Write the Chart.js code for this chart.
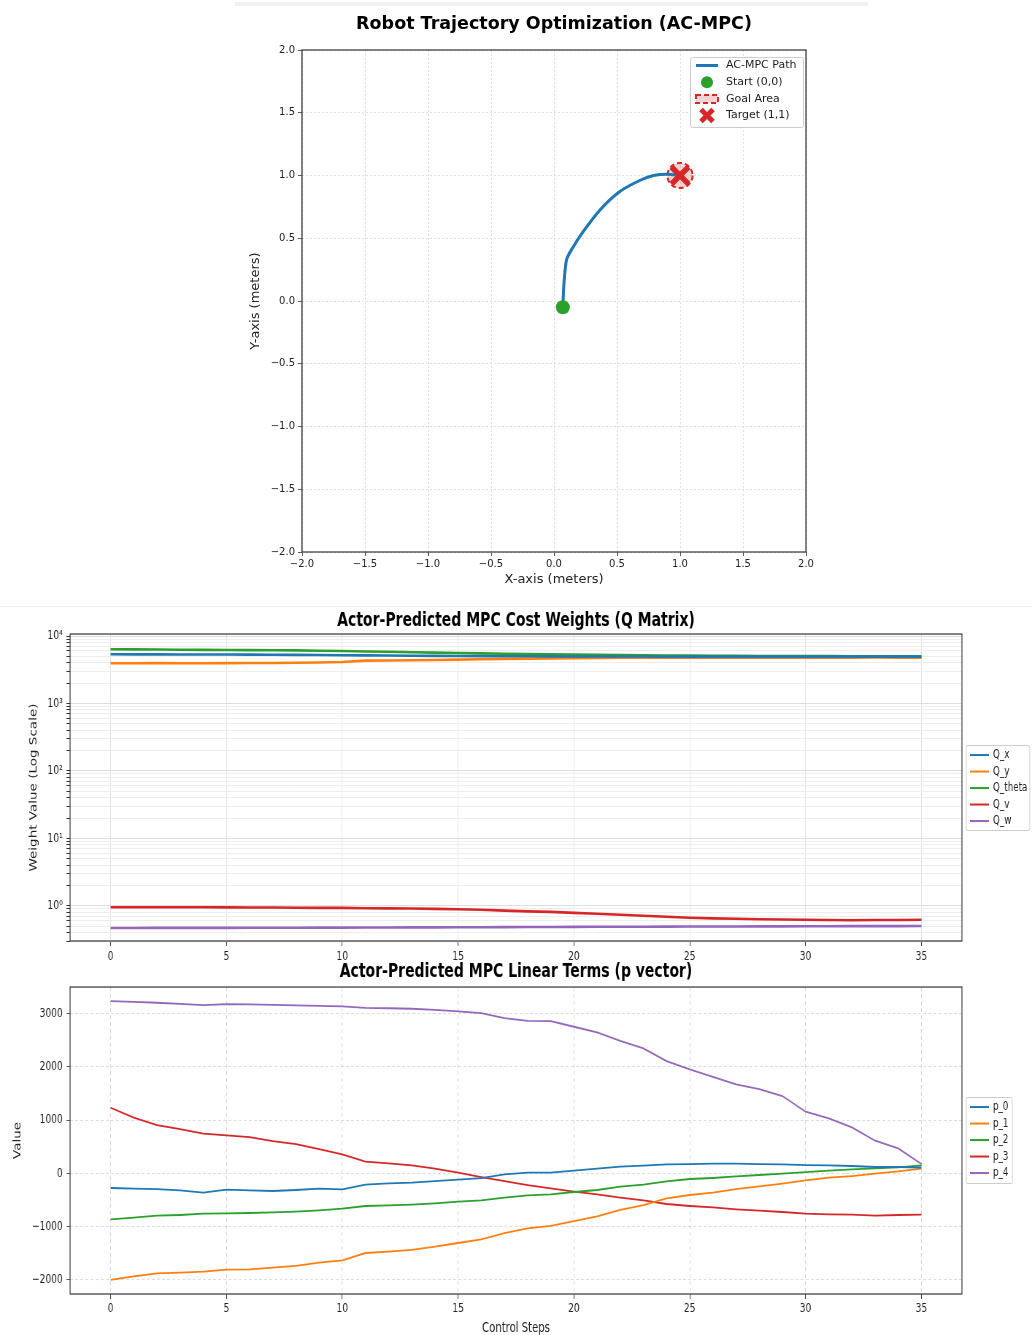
<!DOCTYPE html>
<html lang="en">
<head>
<meta charset="UTF-8">
<title>AC-MPC Results</title>
<script src="https://cdn.jsdelivr.net/npm/chart.js"></script>
<style>
    body { margin: 0; background: #fff; }
    .page { position: relative; width: 1032px; height: 1335px; overflow: hidden; background: #fff; }
    .page canvas { position: absolute; }
    #trajChart { left: 238px; top: 0; }
    /* the two step plots were squeezed sideways in the original figure */
    #qChart, #pChart { left: 0; transform: scaleX(0.72984); transform-origin: 0 0; }
    #qChart { top: 606px; }
    #pChart { top: 956px; }
    .topbar { position: absolute; left: 235px; top: 2px; width: 633px; height: 4px; background: #f0f0f0; }
    .sep { position: absolute; left: 0; top: 606px; width: 1032px; height: 1px; background: #f2f2f2; }
</style>
</head>
<body>
<div class="page">
    <div class="topbar"></div>
    <div class="sep"></div>
    <canvas id="trajChart" width="632" height="600"></canvas>
    <canvas id="qChart" width="1414" height="356"></canvas>
    <canvas id="pChart" width="1414" height="379"></canvas>
</div>

<script>
// ---- trajectory (top) ----
const pathX = [0.07, 0.08, 0.10, 0.14, 0.23, 0.36, 0.52, 0.68, 0.79, 0.90, 1.00];
const pathY = [-0.05, 0.15, 0.33, 0.41, 0.55, 0.72, 0.87, 0.96, 1.00, 1.01, 1.00];
const startXY = [0.07, -0.05];
const targetXY = [1.0, 1.0];
const goalRadius = [0.1];

// ---- Q weights (middle) ----
const steps = [0, 1, 2, 3, 4, 5, 6, 7, 8, 9, 10, 11, 12, 13, 14, 15, 16, 17, 18, 19, 20, 21, 22, 23, 24, 25, 26, 27, 28, 29, 30, 31, 32, 33, 34, 35];
const stepTicks = [0, 5, 10, 15, 20, 25, 30, 35];
const qX = [5360, 5350, 5340, 5330, 5320, 5310, 5290, 5270, 5250, 5220, 5180, 5160, 5140, 5110, 5080, 5060, 5040, 5020, 5000, 4990, 4980, 4970, 4960, 4960, 4950, 4950, 4950, 4950, 4950, 4950, 4950, 4950, 4950, 4950, 4950, 4950];
const qY = [3950, 3950, 3960, 3950, 3940, 3960, 3970, 3990, 4010, 4050, 4120, 4310, 4330, 4380, 4420, 4470, 4530, 4580, 4620, 4660, 4700, 4730, 4750, 4760, 4770, 4780, 4780, 4790, 4790, 4790, 4790, 4790, 4790, 4800, 4790, 4790];
const qTheta = [6350, 6330, 6300, 6270, 6240, 6210, 6180, 6150, 6120, 6060, 6000, 5900, 5850, 5760, 5680, 5600, 5530, 5460, 5400, 5340, 5290, 5250, 5210, 5180, 5150, 5120, 5100, 5080, 5060, 5050, 5040, 5030, 5020, 5010, 5000, 5000];
const qV = [0.95, 0.95, 0.95, 0.95, 0.95, 0.945, 0.94, 0.94, 0.935, 0.93, 0.93, 0.92, 0.915, 0.91, 0.90, 0.885, 0.87, 0.845, 0.825, 0.81, 0.785, 0.76, 0.735, 0.71, 0.685, 0.665, 0.65, 0.64, 0.63, 0.625, 0.62, 0.615, 0.61, 0.615, 0.615, 0.62];
const qW = [0.468, 0.468, 0.469, 0.469, 0.47, 0.47, 0.471, 0.471, 0.472, 0.473, 0.474, 0.475, 0.476, 0.477, 0.478, 0.479, 0.48, 0.482, 0.483, 0.484, 0.486, 0.487, 0.488, 0.489, 0.49, 0.491, 0.492, 0.493, 0.494, 0.495, 0.496, 0.497, 0.498, 0.498, 0.499, 0.5];
const logTicks = [0.3, 0.4, 0.5, 0.6, 0.7, 0.8, 0.9, 1, 2, 3, 4, 5, 6, 7, 8, 9, 10, 20, 30, 40, 50, 60, 70, 80, 90,
    100, 200, 300, 400, 500, 600, 700, 800, 900, 1000, 2000, 3000, 4000, 5000, 6000, 7000, 8000, 9000, 10000];
const logMajor = [1, 10, 100, 1000, 10000];
const logLabels = ['10\u2070', '10\u00b9', '10\u00b2', '10\u00b3', '10\u2074'];

// ---- p vector (bottom) ----
const p0 = [-275, -285, -294, -319, -362, -306, -319, -331, -312, -287, -300, -212, -188, -175, -144, -119, -88, -20, 12, 12, 50, 88, 125, 144, 169, 175, 181, 181, 175, 169, 156, 150, 138, 119, 119, 110];
const p1 = [-2000, -1931, -1875, -1862, -1844, -1806, -1800, -1769, -1737, -1675, -1631, -1494, -1469, -1437, -1375, -1306, -1237, -1120, -1031, -987, -894, -806, -687, -594, -469, -406, -362, -294, -244, -194, -131, -81, -50, -6, 37, 87];
const p2 = [-862, -831, -794, -781, -756, -750, -744, -731, -719, -694, -662, -612, -600, -587, -562, -531, -506, -455, -412, -394, -350, -312, -250, -212, -150, -106, -87, -56, -31, -6, 25, 50, 75, 94, 112, 150];
const p3 = [1231, 1044, 906, 831, 744, 712, 681, 606, 550, 456, 356, 219, 188, 150, 88, 12, -69, -145, -219, -281, -344, -394, -456, -506, -575, -612, -637, -675, -700, -725, -756, -769, -775, -794, -781, -775];
const p4 = [3231, 3215, 3200, 3180, 3156, 3175, 3169, 3160, 3150, 3140, 3131, 3106, 3097, 3088, 3065, 3038, 3006, 2910, 2862, 2856, 2750, 2644, 2487, 2344, 2106, 1950, 1812, 1669, 1581, 1450, 1156, 1031, 862, 612, 469, 175];
const pTicks = [-2000, -1000, 0, 1000, 2000, 3000];

const C = { blue: '#1f77b4', orange: '#ff7f0e', green: '#2ca02c', red: '#d62728', purple: '#9467bd' };
const SANS = "'DejaVu Sans', sans-serif";
const TXT = '#222';

const minus = s => String(s).replace('-', '\u2212');
const pts = (xs, ys) => xs.map((x, i) => ({ x: x, y: ys[i] }));

// empty right-hand axis: keeps room on the right without shifting the title
function spacer(w) {
    return {
        type: 'linear', position: 'right', display: true,
        afterFit: s => { s.width = w; },
        ticks: { display: false }, grid: { display: false }, border: { display: false }
    };
}

// box around the plot area (matplotlib spines)
const frame = {
    id: 'frame',
    afterDatasetsDraw(chart) {
        const { ctx, chartArea: a } = chart;
        ctx.save();
        ctx.strokeStyle = '#333';
        ctx.lineWidth = 1.2;
        ctx.strokeRect(a.left, a.top, a.right - a.left, a.bottom - a.top);
        ctx.restore();
    }
};

function drawMarker(ctx, it, cx, cy, half) {
    ctx.save();
    if (it.kind === 'line') {
        ctx.strokeStyle = it.color;
        ctx.lineWidth = it.width || 2.5;
        ctx.beginPath();
        ctx.moveTo(cx - half, cy);
        ctx.lineTo(cx + half, cy);
        ctx.stroke();
    } else if (it.kind === 'dot') {
        ctx.fillStyle = it.color;
        ctx.beginPath();
        ctx.arc(cx, cy, 6, 0, Math.PI * 2);
        ctx.fill();
    } else if (it.kind === 'dashRect') {
        ctx.fillStyle = 'rgba(214,39,40,0.2)';
        ctx.fillRect(cx - 11, cy - 4, 22, 8);
        ctx.strokeStyle = it.color;
        ctx.lineWidth = 2;
        ctx.setLineDash([5, 3]);
        ctx.strokeRect(cx - 11, cy - 4, 22, 8);
    } else if (it.kind === 'cross') {
        ctx.strokeStyle = it.color;
        ctx.lineWidth = 5;
        ctx.beginPath();
        ctx.moveTo(cx - 6, cy - 6); ctx.lineTo(cx + 6, cy + 6);
        ctx.moveTo(cx + 6, cy - 6); ctx.lineTo(cx - 6, cy + 6);
        ctx.stroke();
    }
    ctx.restore();
}

// legend drawn as a bordered box, like matplotlib's
function boxLegend(cfg) {
    return {
        id: 'boxLegend',
        afterDraw(chart) {
            const { ctx, chartArea: a } = chart;
            const x = cfg.inside ? a.right - cfg.offsetX - cfg.width : a.right + cfg.offsetX;
            const y = a.top + cfg.offsetY;
            ctx.save();
            ctx.fillStyle = 'rgba(255,255,255,0.9)';
            ctx.strokeStyle = '#cccccc';
            ctx.lineWidth = 1;
            ctx.beginPath();
            ctx.roundRect(x + 0.5, y + 0.5, cfg.width, cfg.height, 2);
            ctx.fill();
            ctx.stroke();
            cfg.items.forEach((it, i) => {
                const cy = y + cfg.first + cfg.row * i;
                drawMarker(ctx, it, x + cfg.markX, cy, cfg.half);
                ctx.fillStyle = TXT;
                ctx.font = cfg.font;
                ctx.textAlign = 'left';
                ctx.textBaseline = 'middle';
                ctx.fillText(it.label, x + cfg.textX, cy);
            });
            ctx.restore();
        }
    };
}

// dashed goal circle, sized through the chart's own scales
const goalArea = {
    id: 'goalArea',
    beforeDatasetsDraw(chart) {
        const { ctx, scales } = chart;
        const cx = scales.x.getPixelForValue(targetXY[0]);
        const cy = scales.y.getPixelForValue(targetXY[1]);
        const r = Math.abs(scales.x.getPixelForValue(targetXY[0] + goalRadius[0]) - cx);
        ctx.save();
        ctx.beginPath();
        ctx.arc(cx, cy, r, 0, Math.PI * 2);
        ctx.fillStyle = 'rgba(214,39,40,0.2)';
        ctx.fill();
        ctx.setLineDash([5, 3]);
        ctx.lineWidth = 2;
        ctx.strokeStyle = C.red;
        ctx.stroke();
        ctx.restore();
    }
};

// ---------- chart 1: trajectory ----------
new Chart(document.getElementById('trajChart'), {
    type: 'scatter',
    data: {
        datasets: [
            { label: 'AC-MPC Path', data: pts(pathX, pathY), showLine: true, borderColor: C.blue, borderWidth: 3,
              pointRadius: 0, tension: 0.3, order: 3 },
            { label: 'Start (0,0)', data: [{ x: startXY[0], y: startXY[1] }], pointRadius: 7,
              backgroundColor: C.green, borderColor: C.green, borderWidth: 0, order: 2 },
            { label: 'Target (1,1)', data: [{ x: targetXY[0], y: targetXY[1] }], pointStyle: 'crossRot',
              pointRadius: 12, borderWidth: 5.5, borderColor: C.red, backgroundColor: C.red, order: 1 }
        ]
    },
    options: {
        responsive: false,
        animation: false,
        events: [],
        layout: { padding: 0 },
        plugins: {
            legend: { display: false },
            tooltip: { enabled: false },
            title: {
                display: true,
                text: 'Robot Trajectory Optimization (AC-MPC)',
                color: '#000',
                font: { family: SANS, size: 17.5, weight: 'bold', lineHeight: 1.2 },
                padding: { top: 13.5, bottom: 15.5 }
            }
        },
        scales: {
            x: {
                type: 'linear', min: -2, max: 2,
                afterFit: s => { s.height = 48; },
                ticks: { stepSize: 0.5, color: TXT, font: { family: SANS, size: 10 }, padding: 2,
                         callback: v => minus(v.toFixed(1)) },
                grid: { color: '#d9d9d9', lineWidth: 0.8, tickColor: '#333', tickLength: 4 },
                border: { display: false, dash: [2, 2] },
                title: { display: true, text: 'X-axis (meters)', color: TXT,
                         font: { family: SANS, size: 13 }, padding: { top: 0, bottom: 12.2 } }
            },
            y: {
                type: 'linear', min: -2, max: 2,
                afterFit: s => { s.width = 64; },
                ticks: { stepSize: 0.5, color: TXT, font: { family: SANS, size: 10 }, padding: 3,
                         callback: v => minus(v.toFixed(1)) },
                grid: { color: '#d9d9d9', lineWidth: 0.8, tickColor: '#333', tickLength: 4 },
                border: { display: false, dash: [2, 2] },
                title: { display: true, text: 'Y-axis (meters)', color: TXT,
                         font: { family: SANS, size: 13 }, padding: { top: 10.2, bottom: 0 } }
            },
            pad: spacer(64)
        }
    },
    plugins: [goalArea, frame, boxLegend({
        inside: true, offsetX: 3, offsetY: 7, width: 113, height: 70,
        first: 8.5, row: 16.7, markX: 17, half: 11, textX: 36, font: '11px ' + SANS,
        items: [
            { kind: 'line', color: C.blue, label: 'AC-MPC Path', width: 3 },
            { kind: 'dot', color: C.green, label: 'Start (0,0)' },
            { kind: 'dashRect', color: C.red, label: 'Goal Area' },
            { kind: 'cross', color: C.red, label: 'Target (1,1)' }
        ]
    })]
});

// shared x axis for the two step charts
function stepAxis(height, pad, title, dash, gridColor) {
    return {
        type: 'linear', min: -1.75, max: 36.75,
        afterFit: s => { s.height = height; },
        afterBuildTicks: s => { s.ticks = stepTicks.map(v => ({ value: v })); },
        ticks: { color: TXT, font: { family: SANS, size: 12.5 }, padding: pad, autoSkip: false },
        grid: { color: gridColor, lineWidth: 1, tickColor: '#333', tickLength: 5 },
        border: { display: false, dash: dash },
        title: title
    };
}

function lineSet(label, values, color, width) {
    return { label: label, data: pts(steps, values), borderColor: color, backgroundColor: color,
             borderWidth: width, pointRadius: 0, tension: 0, yAxisID: 'y' };
}

// ---------- chart 2: Q weights (log) ----------
new Chart(document.getElementById('qChart'), {
    type: 'line',
    data: {
        datasets: [
            lineSet('Q_x', qX, C.blue, 2.6),
            lineSet('Q_y', qY, C.orange, 2.6),
            lineSet('Q_theta', qTheta, C.green, 2.6),
            lineSet('Q_v', qV, C.red, 2.6),
            lineSet('Q_w', qW, C.purple, 2.6)
        ]
    },
    options: {
        responsive: false,
        animation: false,
        events: [],
        layout: { padding: 0 },
        plugins: {
            legend: { display: false },
            tooltip: { enabled: false },
            title: {
                display: true,
                text: 'Actor-Predicted MPC Cost Weights (Q Matrix)',
                color: '#000',
                font: { family: SANS, size: 19.2, weight: 'bold', lineHeight: 1.2 },
                padding: { top: 3.5, bottom: 1.5 }
            }
        },
        scales: {
            x: stepAxis(21, 3.5, { display: false }, [], '#e3e3e3'),
            y: {
                type: 'logarithmic', min: 0.3, max: 10700,
                afterFit: s => { s.width = 96; },
                afterBuildTicks: s => { s.ticks = logTicks.map(v => ({ value: v, major: logMajor.includes(v) })); },
                ticks: {
                    autoSkip: false, color: TXT, font: { family: SANS, size: 12.5 }, padding: 5,
                    callback: v => { const i = logMajor.indexOf(v); return i >= 0 ? logLabels[i] : ''; }
                },
                grid: {
                    color: c => (c.tick && logMajor.includes(c.tick.value)) ? '#dedede' : '#eeeeee',
                    lineWidth: 1, tickColor: '#333',
                    tickLength: 5
                },
                border: { display: false },
                title: { display: true, text: 'Weight Value (Log Scale)', color: TXT,
                         font: { family: SANS, size: 13.5 }, padding: { top: 38.5, bottom: 0 } }
            },
            pad: spacer(96)
        }
    },
    plugins: [frame, boxLegend({
        inside: false, offsetX: 5.5, offsetY: 111, width: 87, height: 85,
        first: 10, row: 16.5, markX: 18.5, half: 13, textX: 37, font: '12px ' + SANS,
        items: [
            { kind: 'line', color: C.blue, label: 'Q_x', width: 2 },
            { kind: 'line', color: C.orange, label: 'Q_y', width: 2 },
            { kind: 'line', color: C.green, label: 'Q_theta', width: 2 },
            { kind: 'line', color: C.red, label: 'Q_v', width: 2 },
            { kind: 'line', color: C.purple, label: 'Q_w', width: 2 }
        ]
    })]
});

// ---------- chart 3: p vector ----------
new Chart(document.getElementById('pChart'), {
    type: 'line',
    data: {
        datasets: [
            lineSet('p_0', p0, C.blue, 1.8),
            lineSet('p_1', p1, C.orange, 1.8),
            lineSet('p_2', p2, C.green, 1.8),
            lineSet('p_3', p3, C.red, 1.8),
            lineSet('p_4', p4, C.purple, 1.8)
        ]
    },
    options: {
        responsive: false,
        animation: false,
        events: [],
        layout: { padding: 0 },
        plugins: {
            legend: { display: false },
            tooltip: { enabled: false },
            title: {
                display: true,
                text: 'Actor-Predicted MPC Linear Terms (p vector)',
                color: '#000',
                font: { family: SANS, size: 19.2, weight: 'bold', lineHeight: 1.2 },
                padding: { top: 4.5, bottom: 3.5 }
            }
        },
        scales: {
            x: stepAxis(41, 2.5, {
                    display: true, text: 'Control Steps', color: TXT,
                    font: { family: SANS, size: 13.8, lineHeight: 1 }, padding: { top: 0, bottom: 0 }
                }, [4, 3], '#d6d6d6'),
            y: {
                type: 'linear', min: -2263, max: 3495,
                afterFit: s => { s.width = 96; },
                afterBuildTicks: s => { s.ticks = pTicks.map(v => ({ value: v })); },
                ticks: { autoSkip: false, color: TXT, font: { family: SANS, size: 12.5 }, padding: 5,
                         callback: v => minus(v) },
                grid: { color: '#d6d6d6', lineWidth: 0.8, tickColor: '#333', tickLength: 5 },
                border: { display: false, dash: [4, 3] },
                title: { display: true, text: 'Value', color: TXT,
                         font: { family: SANS, size: 13.5 }, padding: { top: 16.6, bottom: 0 } }
            },
            pad: spacer(96)
        }
    },
    plugins: [frame, boxLegend({
        inside: false, offsetX: 5.5, offsetY: 110, width: 63, height: 86,
        first: 10, row: 16.5, markX: 18.5, half: 13, textX: 37, font: '12px ' + SANS,
        items: [
            { kind: 'line', color: C.blue, label: 'p_0', width: 2 },
            { kind: 'line', color: C.orange, label: 'p_1', width: 2 },
            { kind: 'line', color: C.green, label: 'p_2', width: 2 },
            { kind: 'line', color: C.red, label: 'p_3', width: 2 },
            { kind: 'line', color: C.purple, label: 'p_4', width: 2 }
        ]
    })]
});
</script>
</body>
</html>
